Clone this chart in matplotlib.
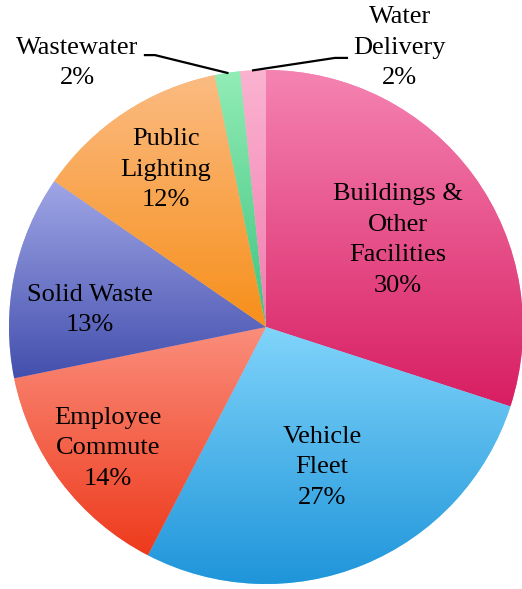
import numpy as np
import matplotlib.pyplot as plt
from matplotlib.colors import LinearSegmentedColormap

plt.rcParams['font.family'] = ['Liberation Serif', 'DejaVu Serif']

sectors = ["Buildings &\nOther\nFacilities", "Vehicle\nFleet", "Employee\nCommute",
           "Solid Waste", "Public\nLighting", "Wastewater", "Water\nDelivery"]
shares = [30.0, 27.6, 14.2, 12.8, 12.2, 1.6, 1.6]
pct_labels = ["30%", "27%", "14%", "13%", "12%", "2%", "2%"]

# light (top) -> dark (bottom) gradient for each slice
top_colors = ['#F584B2', '#80D4FA', '#FA8E7C', '#A0A6E6', '#FBBB82', '#92ECB6', '#FBB3D0']
bottom_colors = ['#D81E62', '#1F95DA', '#EE3A1C', '#434FAD', '#F78F1A', '#3FC47E', '#F07CAF']

# label centres (data units, pie radius = 1)
label_pos = [(0.514, 0.339), (0.218, -0.545), (-0.615, -0.471), (-0.685, 0.066),
             (-0.389, 0.611), (-0.735, 1.027), (0.521, 1.086)]
FS = 19

fig = plt.figure(figsize=(5.22, 5.89), dpi=100)
ax = fig.add_axes([9/522, 5/589, 514/522, 514/589])

wedges, _ = ax.pie(shares, startangle=90, counterclock=False, radius=1,
                   colors=top_colors, wedgeprops=dict(linewidth=0))

grad = np.linspace(0, 1, 256).reshape(-1, 1)
for i, w in enumerate(wedges):
    bb = w.get_path().get_extents()
    cmap = LinearSegmentedColormap.from_list(f'g{i}', [top_colors[i], bottom_colors[i]])
    im = ax.imshow(grad, extent=[bb.x0, bb.x1, bb.y0, bb.y1], origin='upper',
                   cmap=cmap, aspect='auto', zorder=w.get_zorder() + 0.1,
                   interpolation='bilinear')
    im.set_clip_path(w)

for i, (name, pct) in enumerate(zip(sectors, pct_labels)):
    x, y = label_pos[i]
    ax.text(x, y, f'{name}\n{pct}', ha='center', va='center', fontsize=FS,
            linespacing=1.5, zorder=5)

# leader lines for the two small slices
for i, (tx, elbow) in [(5, (-0.471, -0.432)), (6, (0.315, 0.268))]:
    w = wedges[i]
    mid = np.deg2rad((w.theta1 + w.theta2) / 2)
    ex, ey = np.cos(mid), np.sin(mid)
    ly = 1.058 if i == 5 else 1.047
    ax.plot([tx, elbow, ex], [ly, ly, ey], color='black', lw=1.6,
            clip_on=False, zorder=6)

ax.set_xlim(-1, 1)
ax.set_ylim(-1, 1)
ax.set_aspect('equal')
ax.axis('off')

fig.savefig('out.png', dpi=100)
